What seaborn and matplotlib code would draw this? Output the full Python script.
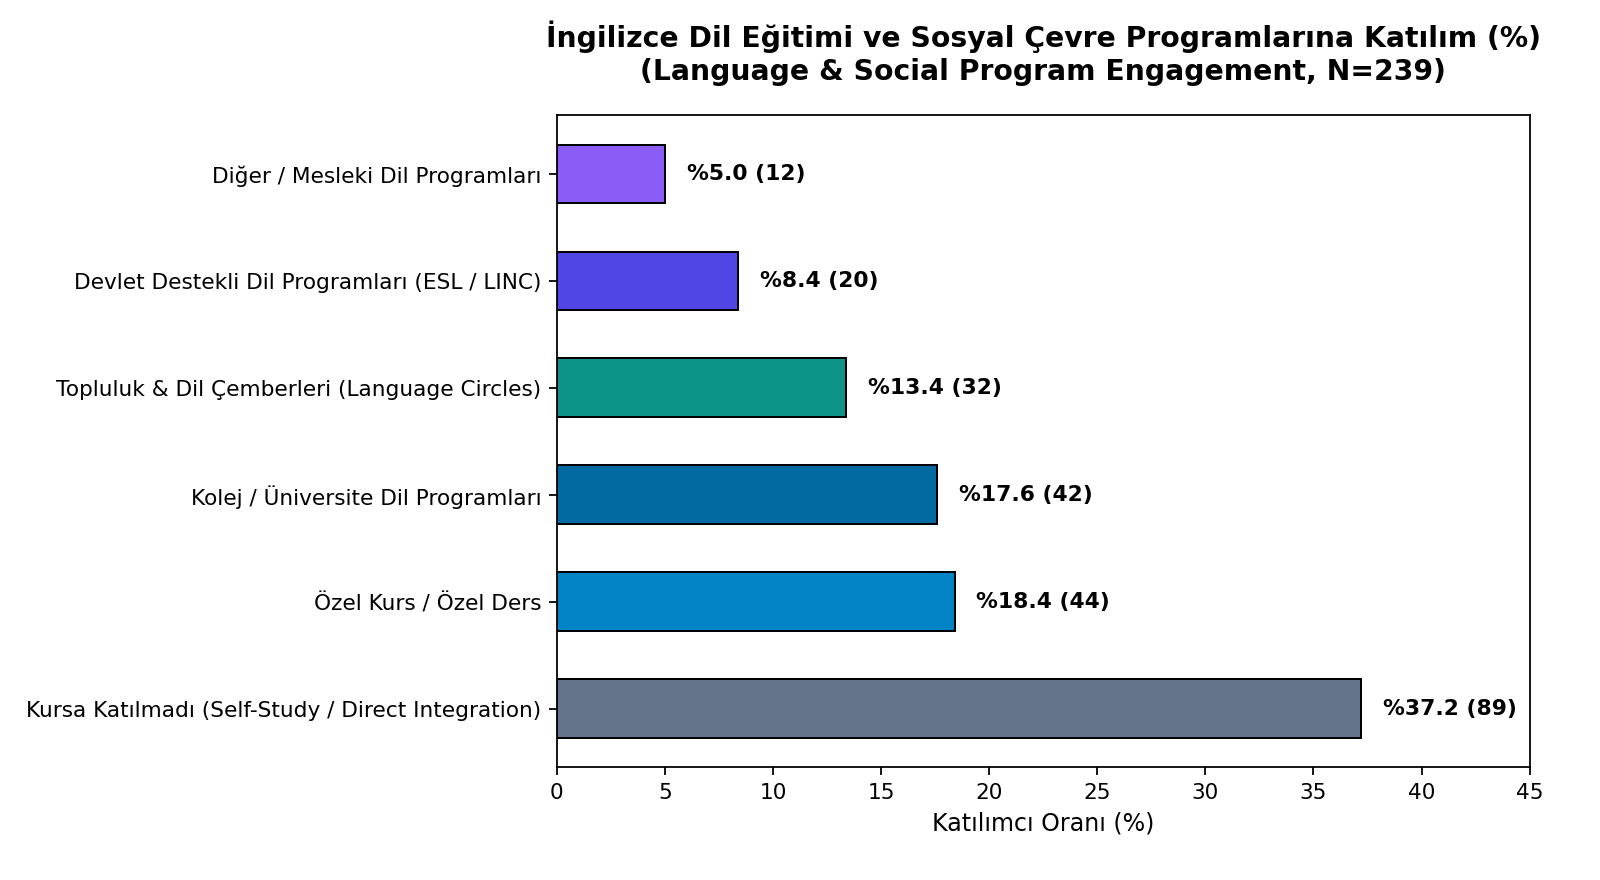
import matplotlib
matplotlib.use("Agg")
import matplotlib.pyplot as plt
import seaborn as sns
import pandas as pd

# data, top to bottom as in the chart
categories = [
    "Diğer / Mesleki Dil Programları",
    "Devlet Destekli Dil Programları (ESL / LINC)",
    "Topluluk & Dil Çemberleri (Language Circles)",
    "Kolej / Üniversite Dil Programları",
    "Özel Kurs / Özel Ders",
    "Kursa Katılmadı (Self-Study / Direct Integration)",
]
percents = [5.0, 8.4, 13.4, 17.6, 18.4, 37.2]
counts = [12, 20, 32, 42, 44, 89]
colors = ["#8b5cf6", "#4f46e5", "#0d9488", "#0369a1", "#0284c7", "#64748b"]

df = pd.DataFrame({"category": categories, "pct": percents, "n": counts})

fig, ax = plt.subplots(figsize=(10, 5.5), dpi=160)
sns.barplot(data=df, x="pct", y="category", hue="category", palette=colors,
            order=categories, hue_order=categories, legend=False,
            width=0.55, edgecolor="black", linewidth=0.9, saturation=1, ax=ax)

for i, (p, n) in enumerate(zip(percents, counts)):
    ax.text(p + 1.0, i, f"%{p:.1f} ({n})", va="center", ha="left",
            fontsize=9.8, fontweight="bold")

ax.set_xlim(0, 45)
ax.set_ylim(5.55, -0.55)
ax.set_xticks(range(0, 46, 5))
ax.set_xlabel("Katılımcı Oranı (%)", fontsize=10.7)
ax.set_ylabel("")
ax.tick_params(axis="both", labelsize=9.75)
ax.set_title("İngilizce Dil Eğitimi ve Sosyal Çevre Programlarına Katılım (%)\n"
             "(Language & Social Program Engagement, N=239)",
             fontsize=12.7, fontweight="bold", pad=16)

fig.subplots_adjust(left=0.348, right=0.956, top=0.869, bottom=0.128)
fig.savefig("out.png", dpi=160)
